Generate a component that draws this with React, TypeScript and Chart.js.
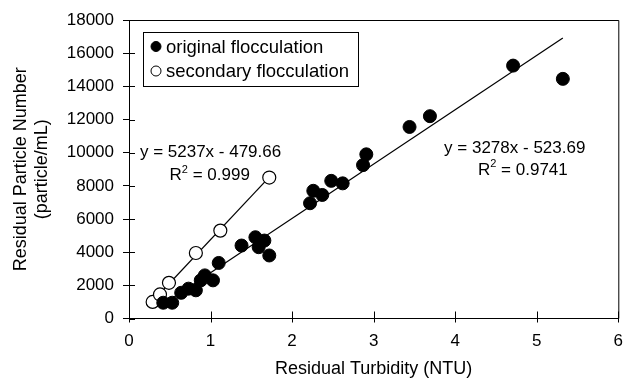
import React, { useEffect, useRef } from "react";
import { Chart, registerables } from "chart.js";

Chart.register(...registerables);

// ---- data ----
const originalX = [0.42, 0.53, 0.64, 0.73, 0.82, 0.88, 0.93, 1.03, 1.1, 1.38, 1.55, 1.59, 1.66, 1.72, 2.22, 2.26, 2.37, 2.48, 2.62, 2.87, 2.91, 3.44, 3.69, 4.71, 5.32];
const originalY = [950, 950, 1550, 1800, 1700, 2300, 2600, 2300, 3350, 4400, 4900, 4300, 4700, 3800, 6950, 7700, 7450, 8300, 8150, 9250, 9900, 11550, 12200, 15250, 14450];
const secondaryX = [0.29, 0.38, 0.49, 0.82, 1.12, 1.72];
const secondaryY = [1000, 1450, 2150, 3950, 5300, 8500];
const seriesLabels = ["original flocculation", "secondary flocculation"];
const originalFit = [3278, -523.69, 0.9741]; // slope, intercept, R²
const secondaryFit = [5237, -479.66, 0.999];
const xTicks = [0, 1, 2, 3, 4, 5, 6];
const yTicks = [0, 2000, 4000, 6000, 8000, 10000, 12000, 14000, 16000, 18000];
const xTitle = "Residual Turbidity (NTU)";
const yTitle = ["Residual Particle Number", "(particle/mL)"];

// ---- layout / style constants ----
const FONT = "'Liberation Sans', Arial, Helvetica, sans-serif";
const eqAnchors = {
  secondary: { eq: [1.0, 10000], r2: [0.99, 8610] },
  original: { eq: [4.73, 10290], r2: [4.83, 8960] },
};

function fitLine(xs: number[], fit: number[]) {
  const lo = Math.min(...xs);
  const hi = Math.max(...xs);
  return [
    { x: lo, y: fit[0] * lo + fit[1] },
    { x: hi, y: fit[0] * hi + fit[1] },
  ];
}

function eqText(fit: number[]) {
  const sign = fit[1] < 0 ? "-" : "+";
  return `y = ${fit[0]}x ${sign} ${Math.abs(fit[1])}`;
}

const framePlugin = {
  id: "frame",
  afterDatasetsDraw(chart: any) {
    const { ctx, chartArea: a, scales } = chart;
    ctx.save();
    ctx.strokeStyle = "#000";
    ctx.lineWidth = 1;
    ctx.beginPath();
    ctx.moveTo(a.left, a.top + 0.5);
    ctx.lineTo(a.right + 0.5, a.top + 0.5);
    ctx.lineTo(a.right + 0.5, a.bottom);
    ctx.stroke();
    // tick marks crossing the axes
    ctx.beginPath();
    for (const v of yTicks) {
      const y = Math.round(scales.y.getPixelForValue(v)) + 0.5;
      ctx.moveTo(a.left, y);
      ctx.lineTo(a.left + 6, y);
    }
    for (const v of xTicks) {
      const x = Math.round(scales.x.getPixelForValue(v)) + 0.5;
      ctx.moveTo(x, a.bottom + 4);
      ctx.lineTo(x, a.bottom - 7);
    }
    ctx.stroke();
    ctx.restore();
  },
};

const legendPlugin = {
  id: "boxLegend",
  afterDraw(chart: any) {
    const { ctx } = chart;
    const items = chart.data.datasets.filter((d: any) => d.type === "scatter");
    const bx = 143, by = 32, bw = 215, bh = 54;
    ctx.save();
    ctx.fillStyle = "#fff";
    ctx.fillRect(bx, by, bw, bh);
    ctx.strokeStyle = "#000";
    ctx.lineWidth = 1;
    ctx.strokeRect(bx + 0.5, by + 0.5, bw, bh);
    ctx.font = `18.5px ${FONT}`;
    ctx.textBaseline = "middle";
    items.forEach((d: any, i: number) => {
      const cy = by + 14.5 + i * 24.5;
      ctx.beginPath();
      ctx.arc(bx + 13, cy, 5, 0, Math.PI * 2);
      ctx.fillStyle = d.pointBackgroundColor;
      ctx.fill();
      ctx.strokeStyle = "#000";
      ctx.lineWidth = 1;
      ctx.stroke();
      ctx.fillStyle = "#000";
      ctx.fillText(d.label, bx + 23, cy + 1);
    });
    ctx.restore();
  },
};

const eqPlugin = {
  id: "equations",
  afterDraw(chart: any) {
    const { ctx, scales } = chart;
    const drawSet = (fit: number[], anchor: any) => {
      ctx.save();
      ctx.fillStyle = "#000";
      ctx.textBaseline = "middle";
      ctx.font = `17px ${FONT}`;
      const ex = scales.x.getPixelForValue(anchor.eq[0]);
      const ey = scales.y.getPixelForValue(anchor.eq[1]);
      ctx.textAlign = "center";
      ctx.fillText(eqText(fit), ex, ey);
      // R² line
      const rx = scales.x.getPixelForValue(anchor.r2[0]);
      const ry = scales.y.getPixelForValue(anchor.r2[1]);
      const rest = ` = ${fit[2]}`;
      ctx.textAlign = "left";
      const wR = ctx.measureText("R").width;
      const wRest = ctx.measureText(rest).width;
      ctx.font = `11px ${FONT}`;
      const w2 = ctx.measureText("2").width;
      const total = wR + w2 + wRest;
      const x0 = rx - total / 2;
      ctx.font = `17px ${FONT}`;
      ctx.fillText("R", x0, ry);
      ctx.font = `11px ${FONT}`;
      ctx.fillText("2", x0 + wR, ry - 6);
      ctx.font = `17px ${FONT}`;
      ctx.fillText(rest, x0 + wR + w2, ry);
      ctx.restore();
    };
    drawSet(secondaryFit, eqAnchors.secondary);
    drawSet(originalFit, eqAnchors.original);
  },
};

export default function App() {
  const ref = useRef<HTMLCanvasElement | null>(null);
  useEffect(() => {
    if (!ref.current) return;
    const chart = new Chart(ref.current, {
      type: "scatter",
      data: {
        datasets: [
          {
            type: "scatter",
            label: seriesLabels[0],
            data: originalX.map((x, i) => ({ x, y: originalY[i] })),
            pointRadius: 6.5,
            pointBackgroundColor: "#000",
            pointBorderColor: "#000",
            pointBorderWidth: 1,
          },
          {
            type: "scatter",
            label: seriesLabels[1],
            data: secondaryX.map((x, i) => ({ x, y: secondaryY[i] })),
            pointRadius: 6.5,
            pointBackgroundColor: "#fff",
            pointBorderColor: "#000",
            pointBorderWidth: 1.2,
          },
          {
            type: "line",
            label: "original fit",
            data: fitLine(originalX, originalFit),
            borderColor: "#000",
            borderWidth: 1.2,
            pointRadius: 0,
            fill: false,
          },
          {
            type: "line",
            label: "secondary fit",
            data: fitLine(secondaryX, secondaryFit),
            borderColor: "#000",
            borderWidth: 1.2,
            pointRadius: 0,
            fill: false,
          },
        ] as any,
      },
      options: {
        animation: false,
        responsive: true,
        maintainAspectRatio: false,
        layout: { padding: { left: 0, right: 6, top: 20, bottom: 0 } },
        plugins: { legend: { display: false }, tooltip: { enabled: false } },
        scales: {
          x: {
            type: "linear",
            min: 0,
            max: 6,
            afterBuildTicks: (s: any) => {
              s.ticks = xTicks.map((v) => ({ value: v }));
            },
            afterFit: (s: any) => {
              s.height = 61.5;
            },
            ticks: {
              color: "#000",
              font: { family: FONT, size: 17 },
              padding: 0,
              callback: (v: any) => String(v),
            },
            grid: { drawOnChartArea: false, color: "transparent", tickLength: 13, tickWidth: 1 },
            border: { color: "#000", width: 1 },
            title: {
              display: true,
              text: xTitle,
              color: "#000",
              font: { family: FONT, size: 18, lineHeight: 1.15 },
              padding: { top: 0, bottom: 1 },
            },
          },
          y: {
            type: "linear",
            min: 0,
            max: 18000,
            afterBuildTicks: (s: any) => {
              s.ticks = yTicks.map((v) => ({ value: v }));
            },
            afterFit: (s: any) => {
              s.width = 129;
            },
            ticks: {
              color: "#000",
              font: { family: FONT, size: 17 },
              padding: 9,
              callback: (v: any) => String(v),
            },
            grid: { drawOnChartArea: false, color: "#000", tickLength: 6, tickWidth: 1 },
            border: { color: "#000", width: 1 },
            title: {
              display: true,
              text: yTitle,
              color: "#000",
              font: { family: FONT, size: 18, lineHeight: 1.15 },
              padding: { top: 11, bottom: 0 },
            },
          },
        },
      },
      plugins: [framePlugin, legendPlugin, eqPlugin],
    });
    return () => chart.destroy();
  }, []);
  return (
    <div style={{ position: "fixed", left: 0, top: 0, width: 626, height: 380, background: "#fff" }}>
      <canvas ref={ref} />
    </div>
  );
}
